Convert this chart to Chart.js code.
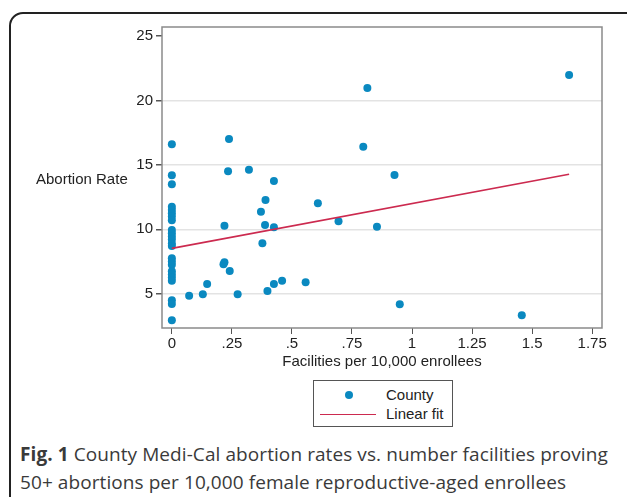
<!DOCTYPE html>
<html>
<head>
<meta charset="utf-8">
<script src="https://cdn.jsdelivr.net/npm/chart.js@4/dist/chart.umd.min.js"></script>
<style>
    html, body { margin: 0; padding: 0; background: #fff; }
    body { width: 627px; height: 497px; position: relative; overflow: hidden; }
    #frame {
        position: absolute; left: 9px; top: 12px; width: 640px; height: 520px;
        border: 2px solid #222; border-radius: 14px; box-sizing: border-box;
    }
    #chartBox { position: absolute; left: 0; top: 0; width: 627px; height: 380px; }
    #yTitle {
        position: absolute; left: 36px; top: 170px;
        font: 15px "Liberation Sans", Arial, sans-serif; color: #222;
    }
    #legend {
        position: absolute; left: 313px; top: 380px; width: 140px; height: 47px;
        border: 1px solid #555; box-sizing: border-box;
        font: 15px "Liberation Sans", Arial, sans-serif; color: #222;
    }
    #legend .dot {
        position: absolute; left: 31px; top: 10px; width: 8px; height: 8px;
        border-radius: 50%; background: #0a89c0;
    }
    #legend .line {
        position: absolute; left: 6px; top: 33px; width: 56px; height: 0;
        border-top: 1.5px solid #cc2a4f;
    }
    #legend .lbl { position: absolute; left: 72px; }
    #caption {
        position: absolute; left: 20px; top: 440px; width: 610px; white-space: nowrap;
        font: 19px "Open Sans", sans-serif; letter-spacing: 0.08px; color: #3a3a3a; line-height: 28px;
    }
</style>
</head>
<body>
<div id="frame"></div>
<div id="chartBox"><canvas id="scatter_chart"></canvas></div>
<div id="yTitle">Abortion Rate</div>
<div id="legend">
    <div class="dot"></div><div class="lbl" style="top:5px">County</div>
    <div class="line"></div><div class="lbl" style="top:24px">Linear fit</div>
</div>
<div id="caption"><b>Fig. 1</b> County Medi-Cal abortion rates vs. number facilities proving<br>50+ abortions per 10,000 female reproductive-aged enrollees</div>

<script>
// facilities per 10,000 enrollees (x) and abortion rate (y), one entry per county
var CountyX = [
    0, 0, 0, 0, 0, 0, 0, 0, 0, 0, 0, 0,
    0, 0, 0, 0, 0, 0, 0, 0, 0, 0, 0, 0,
    0.238, 0.234, 0.321, 0.425, 0.39, 0.371, 0.219, 0.388, 0.425, 0.377,
    0.219, 0.215, 0.241, 0.147, 0.072, 0.129, 0.274, 0.398, 0.425, 0.459,
    0.557, 0.608, 0.797, 0.927, 0.694, 0.854, 0.949, 0.814, 1.654, 1.457
];
var CountyY = [
    16.6, 14.2, 13.5, 11.75, 11.5, 11.25, 11.0, 10.7, 9.95, 9.7, 9.45, 9.2,
    8.9, 8.7, 7.75, 7.5, 7.25, 6.75, 6.5, 6.25, 6.0, 4.5, 4.2, 2.95,
    17.0, 14.5, 14.63, 13.75, 12.27, 11.37, 10.28, 10.33, 10.15, 8.91,
    7.44, 7.28, 6.76, 5.75, 4.85, 4.95, 4.95, 5.21, 5.75, 6.01,
    5.89, 12.02, 16.41, 14.22, 10.62, 10.2, 4.18, 20.97, 21.98, 3.32
];
// end points of the fitted line
var FitX = [0, 1.654];
var FitY = [8.52, 14.27];

var XTicks = [0, 0.25, 0.5, 0.75, 1, 1.25, 1.5, 1.75];
var XTickLabels = ["0", ".25", ".5", ".75", "1", "1.25", "1.5", "1.75"];
var YTicks = [5, 10, 15, 20, 25];

var TickFont = { family: '"Liberation Sans", Arial, sans-serif', size: 15 };

var Form = {
    Points: function (xs, ys) {
        var pts = [];
        for (var i = 0; i < xs.length; ++i) {
            pts.push({ x: xs[i], y: ys[i] });
        }
        return pts;
    },
    Config: function () {
        return {
            type: 'scatter',
            data: {
                datasets: [{
                    label: "County",
                    data: Form.Points(CountyX, CountyY),
                    backgroundColor: '#0a89c0',
                    borderWidth: 0,
                    pointRadius: 4,
                    order: 1
                }, {
                    type: 'line',
                    label: "Linear fit",
                    data: Form.Points(FitX, FitY),
                    borderColor: '#cc2a4f',
                    borderWidth: 1.6,
                    pointRadius: 0,
                    fill: false,
                    order: 0
                }]
            },
            options: {
                responsive: false,
                animation: false,
                layout: { padding: { left: 112, top: 27, right: 25, bottom: 7 } },
                plugins: { legend: { display: false }, tooltip: { enabled: false } },
                scales: {
                    x: {
                        type: 'linear',
                        min: -0.041,
                        max: 1.791,
                        afterBuildTicks: function (s) {
                            s.ticks = XTicks.map(function (v) { return { value: v }; });
                        },
                        afterFit: function (s) { s.height = 45; },
                        ticks: {
                            color: '#222',
                            font: TickFont,
                            padding: 1,
                            maxRotation: 0,
                            callback: function (v) { return XTickLabels[XTicks.indexOf(v)]; }
                        },
                        grid: { drawOnChartArea: false, tickLength: 6, tickColor: '#555', color: '#555' },
                        border: { display: false },
                        title: {
                            display: true,
                            text: 'Facilities per 10,000 enrollees',
                            color: '#222',
                            font: TickFont,
                            padding: { top: 0, bottom: 2 }
                        }
                    },
                    y: {
                        type: 'linear',
                        min: 2.34,
                        max: 25.7,
                        afterBuildTicks: function (s) {
                            s.ticks = YTicks.map(function (v) { return { value: v }; });
                        },
                        afterFit: function (s) { s.width = 50; },
                        ticks: { color: '#222', font: TickFont, padding: 3 },
                        grid: {
                            tickLength: 6,
                            tickColor: '#555',
                            lineWidth: 1.5,
                            color: function (c) {
                                return c.tick && c.tick.value === 25 ? 'rgba(0,0,0,0)' : '#e3e3e3';
                            }
                        },
                        border: { display: false }
                    }
                }
            },
            plugins: [{
                id: 'plotFrame',
                beforeDatasetsDraw: function (chart) {
                    var a = chart.chartArea, ctx = chart.ctx;
                    ctx.save();
                    ctx.strokeStyle = '#8a8a8a';
                    ctx.lineWidth = 1.5;
                    ctx.strokeRect(a.left, a.top, a.right - a.left, a.bottom - a.top);
                    ctx.restore();
                }
            }]
        };
    }
};

var canvas = document.getElementById("scatter_chart");
canvas.width = 627;
canvas.height = 380;
new Chart(canvas.getContext("2d"), Form.Config());
</script>
</body>
</html>
